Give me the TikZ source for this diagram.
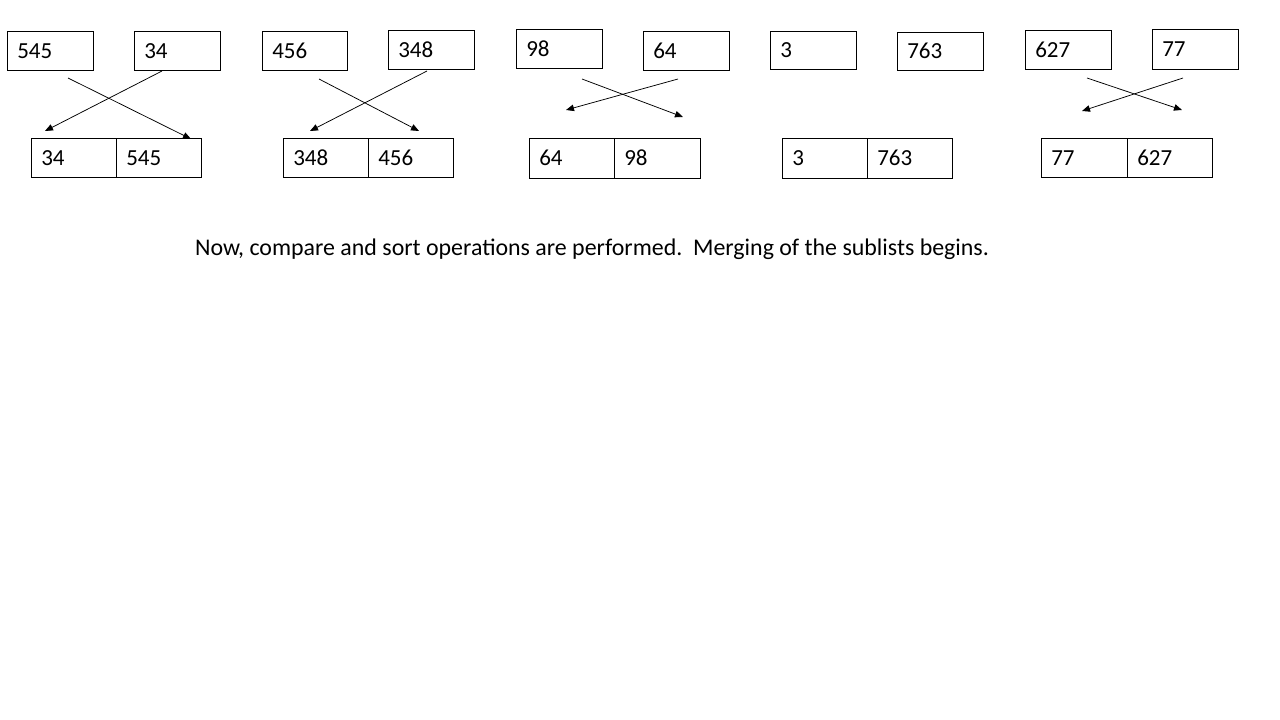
\documentclass[tikz,border=0pt]{standalone}
\usepackage{fontspec}
\setmainfont{Carlito}
\usetikzlibrary{arrows.meta}
\begin{document}
\begin{tikzpicture}[x=1pt,y=1pt,
  numbox/.style={draw=black, line width=0.9pt, rectangle, inner sep=0pt,
    minimum width=86pt, minimum height=39pt},
  numtext/.style={anchor=west, inner sep=0pt, text height=14.5pt, text depth=0pt,
    font=\fontsize{23}{27}\selectfont},
  swap/.style={line width=0.75pt, -{Triangle[length=8pt,width=6.5pt]}},
  msgtext/.style={font=\fontsize{23.9}{28}\selectfont, inner sep=0pt}]
\useasboundingbox (0,0) rectangle (1280,-720);
\newcommand{\numcell}[5][]{%
  \node[numbox,#1] (#2) at (#3) {};
  \node[numtext] (#2t) at ([xshift=10.5pt,yshift=-0.5pt]#2.west) {#4};}
% group 1
\numcell{a1}{50,-50.5}{545}{}
\numcell{b1}{177,-50.5}{34}{}
\numcell[minimum width=85pt]{c1l}{73.5,-157.5}{34}{}
\numcell[minimum width=85pt]{c1r}{158.5,-157.5}{545}{}
\coordinate (p1s) at (68,-78);  \coordinate (p1e) at (191,-139);
\coordinate (q1s) at (162,-71); \coordinate (q1e) at (45,-131);
\draw[swap] (p1s) -- (p1e);
\draw[swap] (q1s) -- (q1e);
% group 2
\numcell[minimum width=85pt]{a2}{304.5,-50.5}{456}{}
\numcell{b2}{431,-49.5}{348}{}
\numcell[minimum width=85pt]{c2l}{325.5,-157.5}{348}{}
\numcell[minimum width=85pt]{c2r}{410.5,-157.5}{456}{}
\coordinate (p2s) at (319,-79);  \coordinate (p2e) at (419,-131);
\coordinate (q2s) at (427,-71);  \coordinate (q2e) at (310,-131);
\draw[swap] (p2s) -- (p2e);
\draw[swap] (q2s) -- (q2e);
% group 3
\numcell{a3}{559,-48.5}{98}{}
\numcell{b3}{686,-50.5}{64}{}
\numcell[minimum width=85pt, minimum height=40pt]{c3l}{571.5,-158}{64}{}
\numcell[minimum height=40pt]{c3r}{657,-158}{98}{}
\coordinate (p3s) at (582,-79);  \coordinate (p3e) at (683,-117);
\coordinate (q3s) at (678,-79);  \coordinate (q3e) at (566,-110);
\draw[swap] (p3s) -- (p3e);
\draw[swap] (q3s) -- (q3e);
% group 4
\numcell[minimum height=38pt]{a4}{813,-50}{3}{}
\numcell[minimum height=38pt]{b4}{940,-51}{763}{}
\numcell[minimum width=85pt, minimum height=40pt]{c4l}{824.5,-158}{3}{}
\numcell[minimum width=85pt, minimum height=40pt]{c4r}{909.5,-158}{763}{}
% group 5
\numcell{a5}{1068,-49.5}{627}{}
\numcell[minimum height=40pt]{b5}{1195,-49}{77}{}
\numcell{c5l}{1084,-157.5}{77}{}
\numcell[minimum width=85pt]{c5r}{1169.5,-157.5}{627}{}
\coordinate (p5s) at (1087,-78);  \coordinate (p5e) at (1182,-110);
\coordinate (q5s) at (1183,-78);  \coordinate (q5e) at (1082,-111);
\draw[swap] (p5s) -- (p5e);
\draw[swap] (q5s) -- (q5e);
% caption
\node[msgtext, anchor=base west] (msg) at (195,-255) {\frenchspacing Now, compare and sort operations are performed.\ \ Merging of the sublists begins.};
\end{tikzpicture}
\end{document}
